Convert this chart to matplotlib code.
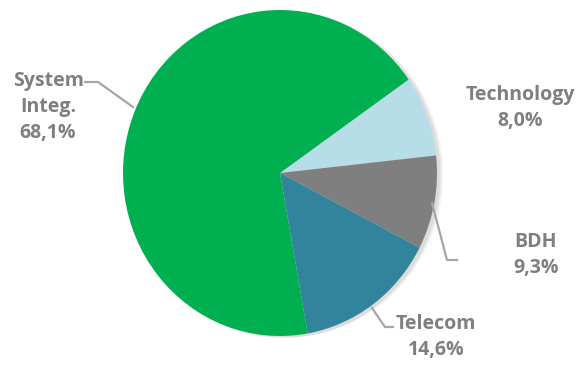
import matplotlib.pyplot as plt
from matplotlib.patches import Ellipse

# data
labels = ['Technology', 'BDH', 'Telecom', 'System\nInteg.']
shares = [8.0, 9.3, 14.6, 68.1]
colors = ['#B7DDE8', '#7F7F7F', '#31849B', '#00B050']

W, H = 586, 365
cx, cy = 280, 173      # centre of the pie in pixels
rx, ry = 157, 163      # the picture is a little stretched vertically

fig = plt.figure(figsize=(W / 100, H / 100), dpi=100)
ax = fig.add_axes([0, 0, 1, 1])

# faint shadow on the right
for i, a in enumerate([0.05, 0.05, 0.04]):
    ax.add_patch(Ellipse((0.02 + 0.01 * i, -0.01), 2.0, 2.0, color='black',
                         alpha=a, lw=0, zorder=0))

ax.pie(shares, colors=colors, startangle=35, counterclock=False, radius=1,
       wedgeprops={'linewidth': 0})
ax.set_aspect('auto')
ax.set_xlim(-cx / rx, (W - cx) / rx)
ax.set_ylim(-(H - cy) / ry, cy / ry)
ax.axis('off')


def fx(x):
    return x / W


def fy(y):
    return 1 - y / H


txt = dict(transform=fig.transFigure, color='#7F7F7F', fontsize=14,
           fontweight='bold', family='Open Sans', ha='center', va='center',
           linespacing=1.42)

# labels: name + share with comma decimals
pos = [(520, 108), (536, 255), (436, 337), (48, 107)]
for name, s, (x, y) in zip(labels, shares, pos):
    t = name + '\n' + f'{s:.1f}'.replace('.', ',') + '%'
    fig.text(fx(x), fy(y), t, **txt)

# leader lines
line = dict(transform=fig.transFigure, color='#A6A6A6', lw=1.6)
leaders = [
    [(85, 82), (98, 82), (133, 107)],
    [(432, 203), (447, 260), (457, 260)],
    [(372, 308), (385, 327), (393, 327)],
]
for pts in leaders:
    xs = [fx(p[0]) for p in pts]
    ys = [fy(p[1]) for p in pts]
    fig.add_artist(plt.Line2D(xs, ys, **line))

fig.savefig('out.png', dpi=100)
